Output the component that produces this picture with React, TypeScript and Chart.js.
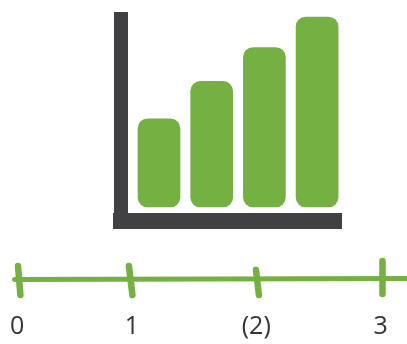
import React, { useEffect, useRef } from "react";
import { Chart, registerables } from "chart.js";

Chart.register(...registerables);

// Bar icon data
const barPositions = [0, 1, 2, 3];
const barValues = [2.6, 3.7, 4.7, 5.6];

// Number line data (units along the line)
const numberLineLabels = ["0", "1", "(2)", "3"];
const labelPositions = [-0.02, 0.93, 1.96, 2.99];
const tickTopX = [-0.012, 0.906, 1.958, 3.005];
const tickBottomX = [0.008, 0.935, 1.982, 3.005];
const tickTopY = [13, 13, 9, 18];
const tickBottomY = [-16, -16, -16, -15];
const axisLineX = [-0.041, 3.21];
const axisLineY = [-0.5, 0.5];

const GREEN = "#75B043";
const DARK = "#414042";

export default function App() {
  const barRef = useRef<HTMLCanvasElement>(null);
  const lineRef = useRef<HTMLCanvasElement>(null);

  useEffect(() => {
    const barChart = new Chart(barRef.current!, {
      type: "bar",
      data: {
        datasets: [
          {
            data: barPositions.map((x, i) => ({ x, y: barValues[i] })),
            backgroundColor: GREEN,
            borderWidth: 0,
            borderRadius: 10,
            borderSkipped: false,
            barThickness: 42,
            clip: false,
          } as any,
        ],
      },
      options: {
        animation: false,
        responsive: false,
        events: [],
        layout: { padding: { left: 121, right: 66, top: 19, bottom: 19 } },
        plugins: { legend: { display: false }, tooltip: { enabled: false } },
        scales: {
          x: {
            type: "linear",
            offset: false,
            min: -0.721,
            max: 3.454,
            ticks: { display: false },
            grid: { display: false, drawTicks: false, offset: false },
            border: { display: true, width: 16, color: DARK },
          },
          y: {
            min: -0.413,
            max: 5.54,
            ticks: { display: false },
            grid: { display: false, drawTicks: false },
            border: { display: true, width: 14, color: DARK },
          },
        },
      },
    });

    const tickSets = tickTopX.map((tx, i) => ({
      data: [
        { x: tx, y: tickTopY[i] },
        { x: tickBottomX[i], y: tickBottomY[i] },
      ],
      borderColor: GREEN,
      borderWidth: 6.5,
      borderCapStyle: "round",
      pointRadius: 0,
      clip: false,
    }));

    const lineChart = new Chart(lineRef.current!, {
      type: "line",
      data: {
        datasets: [
          {
            data: axisLineX.map((x, i) => ({ x, y: axisLineY[i] })),
            borderColor: GREEN,
            borderWidth: 5,
            borderCapStyle: "round",
            pointRadius: 0,
            clip: false,
          } as any,
          ...(tickSets as any[]),
        ],
      },
      options: {
        animation: false,
        responsive: false,
        events: [],
        layout: { padding: 0 },
        plugins: { legend: { display: false }, tooltip: { enabled: false } },
        scales: {
          x: {
            type: "linear",
            min: -0.161,
            max: 3.208,
            afterBuildTicks: (scale: any) => {
              scale.ticks = labelPositions.map((v) => ({ value: v }));
            },
            afterFit: (scale: any) => {
              scale.height = 32;
            },
            ticks: {
              autoSkip: false,
              maxRotation: 0,
              padding: 0,
              color: "#333333",
              font: { family: "'Open Sans', sans-serif", size: 25, weight: 400 },
              callback: (_v: any, i: number) => numberLineLabels[i],
            },
            grid: { display: false, drawTicks: false },
            border: { display: false },
          },
          y: {
            display: false,
            min: -33,
            max: 29,
          },
        },
      },
    });

    return () => {
      barChart.destroy();
      lineChart.destroy();
    };
  }, []);

  return (
    <div style={{ position: "absolute", left: 0, top: 0, width: 407, height: 344, background: "#fff" }}>
      <canvas ref={barRef} width={407} height={240} style={{ position: "absolute", left: 0, top: 0 }} />
      <canvas ref={lineRef} width={407} height={94} style={{ position: "absolute", left: 0, top: 250 }} />
    </div>
  );
}
